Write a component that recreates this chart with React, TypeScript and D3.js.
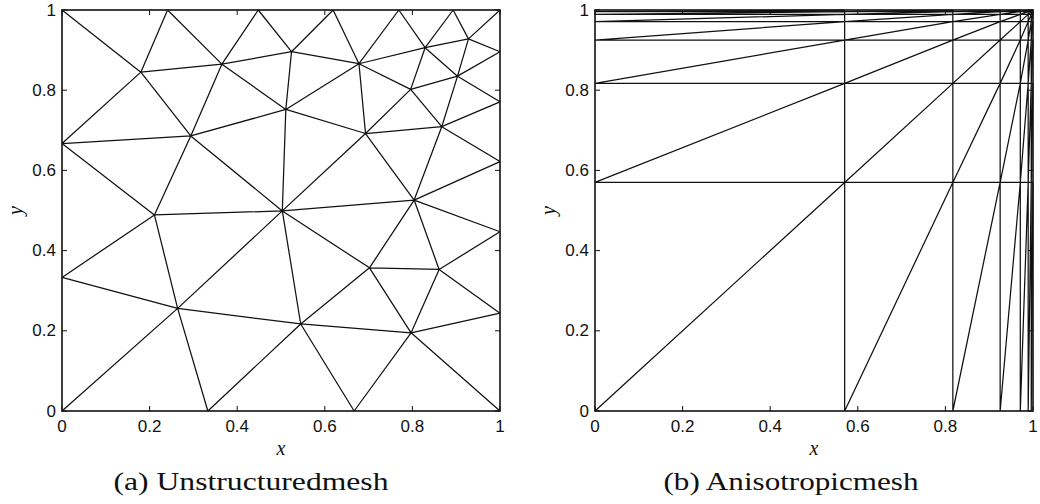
import React from "react";
import * as d3 from "d3";

// ---- Unstructured mesh: node coordinates ----
const nodeNames = [
  "c00", "c10", "c01", "c11", "L1", "L2", "B1", "B2",
  "T1", "T2", "T3", "T4", "T5", "R1", "R2", "R3", "R4", "R5",
  "A", "B", "C", "D", "E", "F", "G", "H", "I", "J", "K", "L", "M", "N", "O", "P", "Q", "R", "S", "T",
];
const nodeX = [
  0, 1, 0, 1, 0, 0, 0.333, 0.667,
  0.241, 0.448, 0.619, 0.769, 0.893, 1, 1, 1, 1, 1,
  0.18, 0.365, 0.294, 0.211, 0.524, 0.511, 0.678, 0.829, 0.928, 0.903, 0.796, 0.693, 0.867, 0.503, 0.804, 0.264, 0.702, 0.861, 0.545, 0.797,
];
const nodeY = [
  0, 0, 1, 1, 0.333, 0.667, 0, 0,
  1, 1, 1, 1, 1, 0.244, 0.447, 0.622, 0.771, 0.896,
  0.845, 0.865, 0.686, 0.489, 0.896, 0.752, 0.866, 0.906, 0.928, 0.835, 0.802, 0.692, 0.709, 0.499, 0.526, 0.256, 0.357, 0.353, 0.217, 0.195,
];

// ---- Unstructured mesh: interior edges ----
const meshEdges = [
  "c01-A", "A-T1", "A-L2", "A-B", "A-C", "T1-B", "B-T2", "B-C", "B-F", "B-E",
  "T2-E", "L2-C", "C-F", "C-D", "C-N", "L2-D", "D-N", "D-L1", "D-P", "L1-P",
  "c00-P", "P-B1", "P-N", "P-S", "B1-S", "N-S", "S-B2", "S-T", "S-Q", "N-Q",
  "N-O", "N-F", "N-L", "F-L", "F-E", "F-G", "E-G", "E-T3", "G-T3", "G-T4",
  "G-H", "G-L", "G-K", "H-T4", "H-T5", "H-I", "H-J", "H-K", "T5-I", "I-c11",
  "I-R5", "I-J", "J-R5", "J-R4", "J-K", "J-M", "K-L", "K-M", "L-M", "L-O",
  "M-R4", "M-R3", "M-O", "O-R3", "O-R2", "O-Q", "O-R", "Q-R", "Q-T", "R-R2",
  "R-R1", "R-T", "T-R1", "T-c10", "T-B2",
];

// ---- Anisotropic mesh: graded grid lines (same in x and y) ----
const gradedLines = [0, 0.57, 0.817, 0.925, 0.971, 0.989, 0.996, 1];

// ---- Axes ----
const tickValues = [0, 0.2, 0.4, 0.6, 0.8, 1];
const tickLabels = ["0", "0.2", "0.4", "0.6", "0.8", "1"];
const captions = ["(a) Unstructuredmesh", "(b) Anisotropicmesh"];
const captionCenters = [251, 791];
const captionWidths = [275, 255];

const W = 1040;
const H = 504;
const TOP = 10;
const BOTTOM = 411;
const panelLeft = [62, 595];
const PANEL_W = 438;
const TICK = 5;

type Seg = [number, number, number, number];

function unstructuredSegments(): Seg[] {
  const idx = new Map(nodeNames.map((n, i) => [n, i]));
  return meshEdges.map((e) => {
    const [a, b] = e.split("-");
    const i = idx.get(a)!;
    const j = idx.get(b)!;
    return [nodeX[i], nodeY[i], nodeX[j], nodeY[j]];
  });
}

function anisotropicSegments(): Seg[] {
  const segs: Seg[] = [];
  const g = gradedLines;
  // full grid lines
  for (let k = 1; k < g.length - 1; k++) {
    segs.push([g[k], 0, g[k], 1]);
    segs.push([0, g[k], 1, g[k]]);
  }
  // one diagonal per cell, lower-left to upper-right
  for (let i = 0; i < g.length - 1; i++) {
    for (let j = 0; j < g.length - 1; j++) {
      segs.push([g[i], g[j], g[i + 1], g[j + 1]]);
    }
  }
  return segs;
}

function Panel({ index, segs }: { index: number; segs: Seg[] }) {
  const x0 = panelLeft[index];
  const x = d3.scaleLinear().domain([0, 1]).range([x0, x0 + PANEL_W]);
  const y = d3.scaleLinear().domain([0, 1]).range([BOTTOM, TOP]);
  const line = d3.line<[number, number]>().x((d) => x(d[0])).y((d) => y(d[1]));
  const meshPath = segs
    .map((s) => line([[s[0], s[1]], [s[2], s[3]]]))
    .join("");
  const cx = x0 + PANEL_W / 2;
  return (
    <g>
      <path d={meshPath} fill="none" stroke="#111" strokeWidth={1.25} />
      {/* inward ticks on all four sides */}
      {tickValues.map((t, i) => (
        <g key={i} stroke="#111" strokeWidth={1}>
          <line x1={x(t)} x2={x(t)} y1={BOTTOM} y2={BOTTOM - TICK} />
          <line x1={x(t)} x2={x(t)} y1={TOP} y2={TOP + TICK} />
          <line x1={x0} x2={x0 + TICK} y1={y(t)} y2={y(t)} />
          <line x1={x0 + PANEL_W} x2={x0 + PANEL_W - TICK} y1={y(t)} y2={y(t)} />
        </g>
      ))}
      <rect x={x0} y={TOP} width={PANEL_W} height={BOTTOM - TOP} fill="none" stroke="#111" strokeWidth={1.6} />
      {tickValues.map((t, i) => (
        <text key={"xl" + i} x={x(t)} y={426} textAnchor="middle" dominantBaseline="central"
          fontFamily="'Liberation Sans', Arial, sans-serif" fontSize={17} fill="#111">
          {tickLabels[i]}
        </text>
      ))}
      {tickValues.map((t, i) => (
        <text key={"yl" + i} x={x0 - 6} y={y(t)} textAnchor="end" dominantBaseline="central"
          fontFamily="'Liberation Sans', Arial, sans-serif" fontSize={17} fill="#111">
          {tickLabels[i]}
        </text>
      ))}
      <text x={cx} y={448} textAnchor="middle" dominantBaseline="central"
        fontFamily="'Liberation Serif', serif" fontStyle="italic" fontSize={20} fill="#111">
        x
      </text>
      <text transform={`translate(${x0 - 47},${(TOP + BOTTOM) / 2}) rotate(-90)`} textAnchor="middle"
        dominantBaseline="central" fontFamily="'Liberation Serif', serif" fontStyle="italic" fontSize={20} fill="#111">
        y
      </text>
      <text x={captionCenters[index]} y={490} textAnchor="middle" fontFamily="'Liberation Serif', serif" fontSize={26}
        textLength={captionWidths[index]} lengthAdjust="spacingAndGlyphs" fill="#111">
        {captions[index]}
      </text>
    </g>
  );
}

export default function App() {
  return (
    <svg width={W} height={H} style={{ position: "absolute", left: 0, top: 0, background: "#fff" }}>
      <rect width={W} height={H} fill="#fff" />
      <Panel index={0} segs={unstructuredSegments()} />
      <Panel index={1} segs={anisotropicSegments()} />
    </svg>
  );
}
